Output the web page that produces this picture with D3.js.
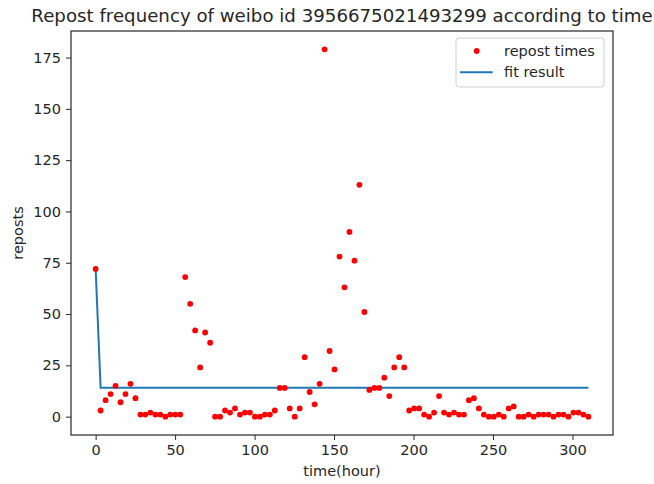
<!DOCTYPE html>
<html>
<head>
<meta charset="utf-8">
<script src="https://cdn.jsdelivr.net/npm/d3@7"></script>
<style>
  body { margin: 0; background: #fff; }
  svg text { font-family: "DejaVu Sans", sans-serif; fill: #262626; }
</style>
</head>
<body>
<div class="graph"></div>
<script>
// data
const hourStep = 310 / 99; // samples every ~3.13 h
const reposts = [
  72, 3, 8, 11, 15, 7, 11, 16, 9, 1,
  1, 2, 1, 1, 0, 1, 1, 1, 68, 55,
  42, 24, 41, 36, 0, 0, 3, 2, 4, 1,
  2, 2, 0, 0, 1, 1, 3, 14, 14, 4,
  0, 4, 29, 12, 6, 16, 179, 32, 23, 78,
  63, 90, 76, 113, 51, 13, 14, 14, 19, 10,
  24, 29, 24, 3, 4, 4, 1, 0, 2, 10,
  2, 1, 2, 1, 1, 8, 9, 4, 1, 0,
  0, 1, 0, 4, 5, 0, 0, 1, 0, 1,
  1, 1, 0, 1, 1, 0, 2, 2, 1, 0
];
const fitHours = [0, 3.13, 310];
const fitValues = [72, 14.1, 14.1];
const xTicks = [0, 50, 100, 150, 200, 250, 300];
const yTicks = [0, 25, 50, 75, 100, 125, 150, 175];
const legendKey = ["repost times", "fit result"];

function main() {
  //setting
  const width = 654;
  const height = 484;
  const left = 71, right = 613, top = 31, bottom = 435;

  const points = reposts.map((v, i) => ({ t: i * hourStep, v: v }));

  const xScale = d3.scaleLinear().domain([-15.5, 325.5]).range([left, right]);
  const yScale = d3.scaleLinear().domain([-8.95, 187.95]).range([bottom, top]);

  const svg = d3
    .select(".graph")
    .append("svg")
    .attr("width", width)
    .attr("height", height);

  //axes
  const xAxis = d3.axisBottom(xScale).tickValues(xTicks).tickSize(5).tickPadding(5);
  const gx = svg
    .append("g")
    .attr("transform", "translate(0," + bottom + ")")
    .call(xAxis);
  const yAxis = d3.axisLeft(yScale).tickValues(yTicks).tickSize(5).tickPadding(5);
  const gy = svg
    .append("g")
    .attr("transform", "translate(" + left + ",0)")
    .call(yAxis);
  [gx, gy].forEach(g => {
    g.select(".domain").remove();
    g.selectAll("line").attr("stroke", "#262626").attr("stroke-width", 1);
    g.selectAll("text").style("font-size", "14.5px").style("font-family", "DejaVu Sans").attr("fill", "#262626");
  });

  //frame
  svg
    .append("rect")
    .attr("x", left)
    .attr("y", top)
    .attr("width", right - left)
    .attr("height", bottom - top)
    .attr("fill", "none")
    .attr("stroke", "#262626")
    .attr("stroke-width", 1.2);

  //fit line
  const line = d3.line().x(d => xScale(d[0])).y(d => yScale(d[1]));
  svg
    .append("path")
    .datum(fitHours.map((h, i) => [h, fitValues[i]]))
    .attr("d", line)
    .attr("fill", "none")
    .attr("stroke", "#1f77b4")
    .attr("stroke-width", 2);

  //dots
  svg
    .selectAll("circle.dot")
    .data(points)
    .enter()
    .append("circle")
    .attr("class", "dot")
    .attr("cx", d => xScale(d.t))
    .attr("cy", d => yScale(d.v))
    .attr("r", 2.9)
    .attr("fill", "#ff0000");

  //title and labels
  svg
    .append("text")
    .attr("x", (left + right) / 2)
    .attr("y", 22)
    .attr("text-anchor", "middle")
    .style("font-size", "18.2px")
    .text("Repost frequency of weibo id 3956675021493299 according to time");
  svg
    .append("text")
    .attr("x", (left + right) / 2)
    .attr("y", 476)
    .attr("text-anchor", "middle")
    .style("font-size", "14.5px")
    .text("time(hour)");
  svg
    .append("text")
    .attr("transform", "translate(23," + (top + bottom) / 2 + ") rotate(-90)")
    .attr("text-anchor", "middle")
    .style("font-size", "14.5px")
    .text("reposts");

  //legend
  const lg = svg.append("g").attr("transform", "translate(456,38)");
  lg.append("rect")
    .attr("width", 148)
    .attr("height", 49)
    .attr("rx", 3)
    .attr("fill", "#fff")
    .attr("fill-opacity", 0.8)
    .attr("stroke", "#d0d0d0");
  lg.append("circle").attr("cx", 20.7).attr("cy", 13).attr("r", 2.9).attr("fill", "#ff0000");
  lg.append("line")
    .attr("x1", 4).attr("x2", 36.7)
    .attr("y1", 34.3).attr("y2", 34.3)
    .attr("stroke", "#1f77b4").attr("stroke-width", 2);
  lg.selectAll("text.lbl")
    .data(legendKey)
    .enter()
    .append("text")
    .attr("class", "lbl")
    .attr("x", 48)
    .attr("y", (d, i) => 18 + i * 21)
    .style("font-size", "14.5px")
    .text(d => d);
}

main();
</script>
</body>
</html>
